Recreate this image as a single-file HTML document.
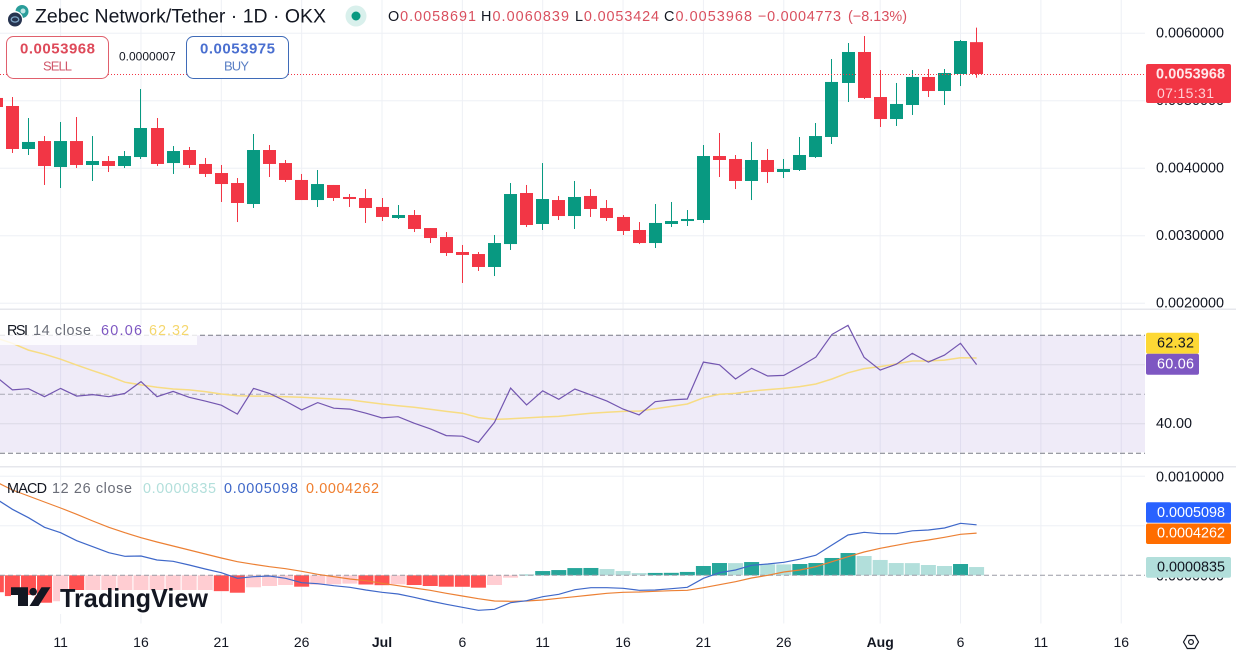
<!DOCTYPE html>
<html lang="en">
<head>
<meta charset="utf-8">
<title>Zebec Network/Tether 1D OKX</title>
<style>
html,body{margin:0;padding:0;background:#fff;width:1236px;height:657px;overflow:hidden}
svg{display:block;font-family:"Liberation Sans",sans-serif}
text{dominant-baseline:central}
</style>
</head>
<body>
<svg id="chart" xmlns="http://www.w3.org/2000/svg" width="1236" height="657" viewBox="0 0 1236 657">
  <rect x="0" y="0" width="1236" height="657" fill="#ffffff"/>
  <g id="grid"></g>
  <rect x="0" y="335.3" width="1145" height="117" fill="#7e57c2" fill-opacity="0.12"/>
  <rect x="0" y="308.5" width="1236" height="1.5" fill="#e6e7ec"/>
  <rect x="0" y="466" width="1236" height="1.5" fill="#e6e7ec"/>
  <g id="bands"></g>
  <g id="candles"></g>
  <line x1="0" y1="74.5" x2="1145" y2="74.5" stroke="#f23645" stroke-width="1" stroke-dasharray="1 2"/>
  <g id="hist"></g>
  <g id="lines"></g>
  <g id="yLabels"></g>
  <g id="xLabels"></g>

  <!-- header -->
  <g>
    <circle cx="22" cy="11.5" r="6.5" fill="#2a9d9a"/>
    <circle cx="23" cy="11" r="2.5" fill="#bfe6e6"/>
    <circle cx="15" cy="19" r="8" fill="#ffffff"/>
    <circle cx="15" cy="19.5" r="7" fill="#26334f"/>
    <ellipse cx="15" cy="19.5" rx="3.8" ry="2.6" fill="none" stroke="#7fa6c6" stroke-width="1.3"/>
  </g>
  <text x="35" y="17" font-size="19" fill="#131722" textLength="291" lengthAdjust="spacingAndGlyphs">Zebec Network/Tether · 1D · OKX</text>
  <circle cx="356" cy="16" r="10.5" fill="#d9f0ec"/>
  <circle cx="356" cy="16" r="4.5" fill="#089981"/>
  <g font-size="14.4">
    <text x="388" y="17" fill="#d9505f" textLength="88"><tspan fill="#131722">O</tspan>0.0058691</text>
    <text x="481" y="17" fill="#d9505f" textLength="88"><tspan fill="#131722">H</tspan>0.0060839</text>
    <text x="575" y="17" fill="#d9505f" textLength="84"><tspan fill="#131722">L</tspan>0.0053424</text>
    <text x="664" y="17" fill="#d9505f" textLength="88"><tspan fill="#131722">C</tspan>0.0053968</text>
    <text x="758" y="17" fill="#d9505f" textLength="83">−0.0004773</text>
    <text x="848" y="17" fill="#d9505f" textLength="59">(−8.13%)</text>
  </g>
  <g>
    <rect x="6.5" y="36.5" width="102" height="42" rx="7" fill="#ffffff" stroke="#e0606d"/>
    <text x="20" y="49" font-size="15" font-weight="700" fill="#de4a5a" textLength="75">0.0053968</text>
    <text x="43" y="66" font-size="13" fill="#d0566a" textLength="29">SELL</text>
  </g>
  <text x="119" y="56.5" font-size="12" fill="#131722">0.0000007</text>
  <g>
    <rect x="186.5" y="36.5" width="102" height="42" rx="7" fill="#ffffff" stroke="#3f6bb8"/>
    <text x="200" y="49" font-size="15" font-weight="700" fill="#4a6fd0" textLength="75">0.0053975</text>
    <text x="224" y="66" font-size="13" fill="#5a7fc4" textLength="25">BUY</text>
  </g>

  <!-- price tag -->
  <g>
    <rect x="1146" y="64" width="85" height="39" rx="2" fill="#f23645"/>
    <text x="1156" y="74.5" font-size="14.4" font-weight="700" fill="#ffe9eb" textLength="69">0.0053968</text>
    <text x="1157" y="93" font-size="14" fill="#ffd0d5" textLength="57">07:15:31</text>
  </g>

  <!-- RSI legend and tags -->
  <rect x="0" y="325" width="197" height="20" fill="#ffffff" fill-opacity="0.8"/>
  <g font-size="14.4">
    <text x="7" y="331" fill="#131722" textLength="21">RSI</text>
    <text x="33" y="331" fill="#6a6d78" textLength="58">14 close</text>
    <text x="101" y="331" fill="#7e57c2" textLength="41">60.06</text>
    <text x="149" y="331" fill="#f5d76e" textLength="40">62.32</text>
  </g>
  <rect x="1146" y="332.7" width="53" height="21" rx="2" fill="#fdd835"/>
  <text x="1157" y="343.5" font-size="14.4" fill="#131722" textLength="37">62.32</text>
  <rect x="1146" y="353.7" width="53" height="21" rx="2" fill="#7e57c2"/>
  <text x="1157" y="364.5" font-size="14.4" fill="#ffffff" textLength="37">60.06</text>

  <!-- MACD legend and tags -->
  <g font-size="14.4">
    <text x="7" y="489" fill="#131722" textLength="40">MACD</text>
    <text x="52" y="489" fill="#6a6d78" textLength="80">12 26 close</text>
    <text x="143" y="489" fill="#b2dfdb" textLength="73">0.0000835</text>
    <text x="224" y="489" fill="#3f68c9" textLength="74">0.0005098</text>
    <text x="306" y="489" fill="#ef7d2d" textLength="73">0.0004262</text>
  </g>
  <rect x="1146" y="502.3" width="85" height="20.5" rx="2" fill="#2962ff"/>
  <text x="1157" y="512.8" font-size="14.4" fill="#ffffff" textLength="68">0.0005098</text>
  <rect x="1146" y="523.5" width="85" height="20.5" rx="2" fill="#ff6d00"/>
  <text x="1157" y="533.5" font-size="14.4" fill="#ffffff" textLength="68">0.0004262</text>
  <rect x="1146" y="557" width="85" height="20.7" rx="2" fill="#b2dfdb"/>
  <text x="1157" y="567.5" font-size="14.4" fill="#131722" textLength="68">0.0000835</text>

  <!-- logo -->
  <rect x="60" y="590" width="152" height="24" fill="#ffffff"/>
  <path d="M11 595H36L29 607H11Z" fill="#ffffff"/>
  <g>
    <path d="M11 587.3H28V606H18V595H11Z" fill="#131722"/>
    <circle cx="33.2" cy="591.7" r="3.8" fill="#131722"/>
    <path d="M41.5 587.3H50.5L38.5 606H29.5Z" fill="#131722"/>
    <text x="60" y="598" font-size="26" font-weight="700" fill="#131722" textLength="148" lengthAdjust="spacingAndGlyphs">TradingView</text>
  </g>

  <!-- settings -->
  <g>
    <path d="M1183.5 642L1187.3 635.5H1194.7L1198.5 642L1194.7 648.5H1187.3Z" fill="none" stroke="#131722" stroke-width="1.2"/>
    <circle cx="1191" cy="642" r="2.4" fill="none" stroke="#131722" stroke-width="1.2"/>
  </g>
</svg>

<script>
const categories = ["Jun 7","Jun 8","Jun 9","Jun 10","Jun 11","Jun 12","Jun 13","Jun 14","Jun 15","Jun 16","Jun 17","Jun 18","Jun 19","Jun 20","Jun 21","Jun 22","Jun 23","Jun 24","Jun 25","Jun 26","Jun 27","Jun 28","Jun 29","Jun 30","Jul 1","Jul 2","Jul 3","Jul 4","Jul 5","Jul 6","Jul 7","Jul 8","Jul 9","Jul 10","Jul 11","Jul 12","Jul 13","Jul 14","Jul 15","Jul 16","Jul 17","Jul 18","Jul 19","Jul 20","Jul 21","Jul 22","Jul 23","Jul 24","Jul 25","Jul 26","Jul 27","Jul 28","Jul 29","Jul 30","Jul 31","Aug 1","Aug 2","Aug 3","Aug 4","Aug 5","Aug 6","Aug 7"];

// candle values, in thousandths of a USDT
const opens = [5.042,4.923,4.286,4.404,4.019,4.404,4.049,4.108,4.034,4.167,4.597,4.078,4.271,4.064,3.930,3.782,3.471,4.271,4.078,3.827,3.530,3.753,3.575,3.560,3.427,3.264,3.308,3.115,2.982,2.760,2.730,2.538,2.878,3.634,3.175,3.530,3.293,3.590,3.412,3.279,3.086,2.893,3.175,3.219,3.234,4.182,4.138,3.812,4.123,3.945,3.975,4.167,4.464,5.264,5.723,5.056,4.730,4.938,5.353,5.145,5.397,5.869];
const highs = [5.06,5.056,4.745,4.478,4.686,4.760,4.478,4.182,4.256,5.175,4.745,4.330,4.316,4.153,4.049,3.856,4.508,4.345,4.123,3.916,3.975,3.753,3.619,3.693,3.560,3.456,3.382,3.115,3.056,2.864,2.760,3.012,3.782,3.753,4.078,3.590,3.812,3.693,3.530,3.308,3.204,3.471,3.501,3.382,4.345,4.523,4.197,4.390,4.286,4.138,4.464,4.671,5.619,5.856,5.960,5.456,5.264,5.456,5.471,5.471,5.901,6.084];
const lows = [4.85,4.227,4.197,3.753,3.708,4.004,3.812,3.945,4.004,4.138,4.034,3.916,4.004,3.871,3.501,3.204,3.412,3.871,3.797,3.530,3.427,3.516,3.427,3.190,3.219,3.249,3.056,2.893,2.701,2.301,2.479,2.404,2.790,3.130,3.086,3.234,3.101,3.279,3.219,3.012,2.878,2.819,3.130,3.145,3.190,3.871,3.693,3.530,3.782,3.856,3.960,4.153,4.360,4.982,5.027,4.612,4.627,4.790,5.056,4.938,5.219,5.342];
const closes = [4.908,4.286,4.390,4.034,4.404,4.049,4.108,4.034,4.182,4.597,4.064,4.256,4.049,3.916,3.767,3.486,4.271,4.064,3.827,3.530,3.767,3.560,3.545,3.412,3.279,3.308,3.101,2.967,2.745,2.716,2.538,2.893,3.619,3.160,3.545,3.293,3.575,3.397,3.264,3.071,2.893,3.190,3.219,3.249,4.182,4.123,3.812,4.123,3.945,3.990,4.197,4.478,5.279,5.723,5.042,4.730,4.953,5.353,5.145,5.412,5.886,5.397];

const rsiValues = [55.9,51.5,51.9,49.2,52.0,49.4,49.9,49.2,50.3,54.3,49.2,51.0,49.0,47.7,46.3,43.3,52.0,50.3,47.7,44.7,47.2,45.3,45.0,43.6,42.0,42.4,40.2,38.3,36.0,35.8,33.7,40.5,52.1,46.4,51.2,48.3,51.8,49.8,47.7,45.0,43.0,47.5,48.1,48.4,60.9,60.0,55.2,58.8,56.2,56.4,59.4,62.6,70.3,73.4,62.5,58.2,60.2,63.9,60.9,63.3,67.3,60.06];
const rsiMaValues = [69.1,67.3,65.0,63.6,61.9,59.9,58.0,56.2,54.1,53.2,52.4,51.8,51.5,50.9,50.1,49.5,49.4,49.4,49.2,49.0,48.7,48.4,48.1,47.4,46.7,46.1,45.6,44.9,44.2,43.6,42.1,41.5,41.7,42.0,42.3,42.5,43.1,43.6,43.9,44.2,44.3,45.1,45.9,46.7,48.8,50.0,50.3,51.1,51.6,52.0,52.6,53.5,55.2,57.3,58.7,59.4,60.3,61.3,61.3,61.6,62.4,62.32];

const macdValues = [0.771,0.667,0.582,0.485,0.430,0.349,0.289,0.228,0.192,0.195,0.155,0.141,0.104,0.064,0.026,-0.030,-0.014,-0.007,-0.030,-0.075,-0.085,-0.105,-0.121,-0.148,-0.172,-0.189,-0.222,-0.260,-0.293,-0.323,-0.354,-0.343,-0.277,-0.257,-0.216,-0.192,-0.145,-0.125,-0.125,-0.131,-0.152,-0.148,-0.135,-0.121,-0.030,0.026,0.054,0.101,0.114,0.131,0.163,0.203,0.306,0.407,0.434,0.420,0.420,0.450,0.458,0.478,0.525,0.5098];
const signalValues = [0.942,0.862,0.801,0.740,0.680,0.616,0.548,0.485,0.430,0.380,0.336,0.296,0.256,0.215,0.175,0.137,0.111,0.087,0.067,0.040,0.010,-0.014,-0.037,-0.055,-0.081,-0.105,-0.128,-0.152,-0.182,-0.209,-0.236,-0.260,-0.263,-0.260,-0.249,-0.232,-0.216,-0.199,-0.182,-0.172,-0.169,-0.162,-0.156,-0.152,-0.125,-0.095,-0.065,-0.027,0,0.033,0.054,0.087,0.137,0.188,0.235,0.273,0.303,0.333,0.357,0.384,0.414,0.4262];
const histValues = [-0.171,-0.21,-0.235,-0.277,-0.262,-0.270,-0.259,-0.257,-0.238,-0.185,-0.181,-0.155,-0.152,-0.151,-0.160,-0.176,-0.121,-0.108,-0.098,-0.115,-0.095,-0.091,-0.084,-0.093,-0.100,-0.091,-0.098,-0.108,-0.115,-0.116,-0.125,-0.098,-0.024,0.006,0.043,0.053,0.073,0.074,0.063,0.043,0.023,0.024,0.025,0.034,0.094,0.124,0.123,0.134,0.112,0.110,0.114,0.124,0.175,0.225,0.195,0.155,0.124,0.123,0.104,0.094,0.114,0.0835];

const timeTickIndexes = [4,9,14,19,24,29,34,39,44,49,55,60,65,70];
const timeTickLabels = ["11","16","21","26","Jul","6","11","16","21","26","Aug","6","11","16"];
const priceTickValues = [6,5,4,3,2];
const priceTickLabels = ["0.0060000","0.0050000","0.0040000","0.0030000","0.0020000"];
const rsiTickValues = [60,40];
const rsiBandValues = [70,50,30];
const rsiAxisLabels = ["40.00"];
const rsiAxisLabelValues = [40];
const macdTickValues = [1,0.5];
const macdAxisLabels = ["0.0010000","0.0000000"];
const macdAxisLabelValues = [1,0];

const SVG_NS = "http://www.w3.org/2000/svg";
const PLOT_RIGHT = 1145;
const GRID_BOTTOM = 623.5;
function xAt(k){ return 12.4 + 16.07 * (k - 1); }
function yPrice(v){ return 33.3 + (6 - v) * 67.5; }
function yRsi(v){ return 394.3 - (v - 50) * 2.95; }
function yMacd(v){ return 575.3 - v * 99; }
function make(tag, parent, attrs){
  const node = document.createElementNS(SVG_NS, tag);
  for (const key in attrs) node.setAttribute(key, attrs[key]);
  parent.appendChild(node);
  return node;
}

const gridLayer = document.getElementById("grid");
timeTickIndexes.forEach(function(k){
  const el = make("line", gridLayer, {x1: xAt(k), x2: xAt(k), y1: 0, y2: GRID_BOTTOM, stroke: "#eef0f5", "stroke-width": 1});
  
  
});
function horizontalGrid(y){
  const el = make("line", gridLayer, {x1: 0, x2: PLOT_RIGHT, y1: y, y2: y, stroke: "#eef0f5", "stroke-width": 1});
  
  
}
priceTickValues.forEach(function(v){ horizontalGrid(yPrice(v)); });
macdTickValues.forEach(function(v){ horizontalGrid(yMacd(v)); });

const bandLayer = document.getElementById("bands");
rsiTickValues.forEach(function(v){
  const el = make("line", bandLayer, {x1: 0, x2: PLOT_RIGHT, y1: yRsi(v), y2: yRsi(v), stroke: "#dcd9e6", "stroke-width": 1});
  
  
});
rsiBandValues.forEach(function(v){
  const el = make("line", bandLayer, {x1: 0, x2: PLOT_RIGHT, y1: yRsi(v), y2: yRsi(v), stroke: v === 50 ? "#a9a9b4" : "#787b86", "stroke-width": 1, "stroke-dasharray": "5 3"});
  
  
});

const candleLayer = document.getElementById("candles");
opens.forEach(function(open, k){
  const close = closes[k];
  const color = close >= open ? "#089981" : "#f23645";
  const left = Math.round(xAt(k) - 6.5);
  const group = make("g", candleLayer, {fill: color});
  
  
  const wick = make("rect", group, {x: left + 6, y: yPrice(highs[k]), width: 1, height: yPrice(lows[k]) - yPrice(highs[k])});
  
  
  const top = Math.min(yPrice(open), yPrice(close));
  const body = make("rect", group, {x: left, y: top, width: 13, height: Math.max(1, Math.abs(yPrice(open) - yPrice(close)))});
  
  
});

const histLayer = document.getElementById("hist");
histValues.forEach(function(v, k){
  const prev = k > 0 ? histValues[k - 1] : 0;
  const rising = v > prev;
  const color = v >= 0 ? (rising ? "#26a69a" : "#b2dfdb") : (rising ? "#ffcdd2" : "#ff5252");
  const y0 = yMacd(0);
  const y1 = yMacd(v);
  const el = make("rect", histLayer, {x: xAt(k) - 7.5, y: Math.min(y0, y1), width: 15, height: Math.abs(y1 - y0), fill: color});
  
  
});
const zeroLine = make("line", histLayer, {x1: 0, x2: PLOT_RIGHT, y1: yMacd(0), y2: yMacd(0), stroke: "#9a9ca6", "stroke-width": 1, "stroke-dasharray": "5 3"});



function pathFor(values, yFn){
  return values.map(function(v, k){ return (k ? "L" : "M") + xAt(k).toFixed(1) + " " + yFn(v).toFixed(1); }).join(" ");
}
const lineLayer = document.getElementById("lines");
const rsiMaLine = make("path", lineLayer, {d: pathFor(rsiMaValues, yRsi), fill: "none", stroke: "#f7dc83", "stroke-width": 1.5});


const rsiLine = make("path", lineLayer, {d: pathFor(rsiValues, yRsi), fill: "none", stroke: "#7356b0", "stroke-width": 1.2});


const signalLine = make("path", lineLayer, {d: pathFor(signalValues, yMacd), fill: "none", stroke: "#ec8034", "stroke-width": 1.2});


const macdLine = make("path", lineLayer, {d: pathFor(macdValues, yMacd), fill: "none", stroke: "#3f68c9", "stroke-width": 1.2});



const yLabelLayer = document.getElementById("yLabels");
function axisLabel(text, y){
  const el = make("text", yLabelLayer, {x: 1156, y: y, "font-size": 14.4, fill: "#131722"});
  el.textContent = text;
  
  
}
priceTickLabels.forEach(function(label, i){ axisLabel(label, yPrice(priceTickValues[i])); });
rsiAxisLabels.forEach(function(label, i){ axisLabel(label, yRsi(rsiAxisLabelValues[i])); });
macdAxisLabels.forEach(function(label, i){ axisLabel(label, yMacd(macdAxisLabelValues[i]) + 1); });

const xLabelLayer = document.getElementById("xLabels");
timeTickLabels.forEach(function(label, i){
  const bold = label === "Jul" || label === "Aug";
  const el = make("text", xLabelLayer, {x: xAt(timeTickIndexes[i]), y: 642, "font-size": 14, "text-anchor": "middle", fill: "#131722", "font-weight": bold ? 700 : 400});
  el.textContent = label;
  
  
});
</script>
</body>
</html>
